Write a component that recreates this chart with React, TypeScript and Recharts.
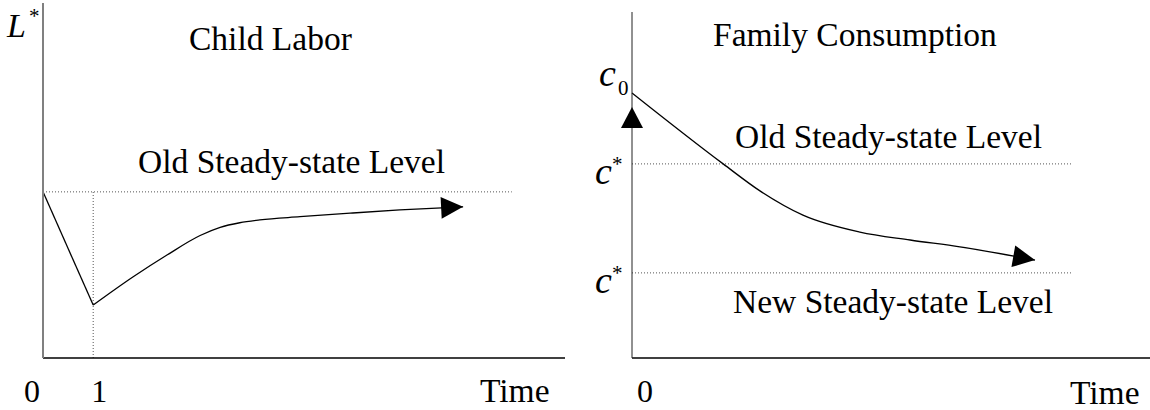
import { ComposedChart, Line, XAxis, YAxis, ReferenceLine, ReferenceDot } from "recharts";

const FONT = "'Liberation Serif', 'Times New Roman', serif";

// left panel: child labor after the shock
const laborDropTime = [0, 1];
const laborDropLevel = [4.68, 1.49];
const laborRecoveryTime = [1, 1.79, 2.47, 3.13, 3.53, 3.92, 4.32, 5.12, 6.12, 7.11, 8.37];
const laborRecoveryLevel = [1.49, 2.28, 2.9, 3.45, 3.68, 3.81, 3.89, 3.98, 4.08, 4.17, 4.26];
const laborOldLevel = 4.68;
const laborGuideEnd = 9.34;
const laborShockTime = 1;
const laborTicks = [0, 1];
const laborTickLabels = ["0", "1"];

// right panel: family consumption
const consumptionTime = [0, 1.76, 2.47, 3.3, 4.4, 5.37, 6.33, 7.78];
const consumptionLevel = [7.66, 5.61, 4.83, 4.13, 3.64, 3.41, 3.21, 2.83];
const consumptionStart = 7.66;
const consumptionOldLevel = 5.61;
const consumptionNewLevel = 2.46;
const consumptionJumpBase = 6.65;
const consumptionGuideEnd = 8.51;
const consumptionLevelTicks = [consumptionNewLevel, consumptionOldLevel, consumptionStart];
const consumptionLevelMarks = ["*", "*", "0"];
const consumptionTicks = [0];
const consumptionTickLabels = ["0"];

const laborDrop = laborDropTime.map((t, i) => ({ t, level: laborDropLevel[i] }));
const laborRecovery = laborRecoveryTime.map((t, i) => ({ t, level: laborRecoveryLevel[i] }));
const consumption = consumptionTime.map((t, i) => ({ t, level: consumptionLevel[i] }));

const txt = { fontFamily: FONT, fontSize: 33.5, fill: "#000" };
const dotted = { stroke: "#555", strokeDasharray: "1 2", strokeWidth: 1 };

// arrowhead on the last point, pointing along the last segment
function arrowDot(lastIndex: number) {
  let prev: { x: number; y: number } | null = null;
  return (props: any) => {
    const { cx, cy, index } = props;
    const before = prev;
    prev = { x: cx, y: cy };
    if (index !== lastIndex || !before) return <g key={`d${index}`} />;
    const ang = (Math.atan2(cy - before.y, cx - before.x) * 180) / Math.PI;
    return (
      <polygon
        key={`d${index}`}
        points="0,0 -22,-11 -22,11"
        transform={`translate(${cx},${cy}) rotate(${ang})`}
        fill="#000"
      />
    );
  };
}

function xTick(labels: string[], nudges: number[]) {
  return (props: any) => {
    const { x, y, index } = props;
    return (
      <text key={index} x={x + nudges[index]} y={y + 44} textAnchor="middle" {...txt} fontSize={32}>
        {labels[index]}
      </text>
    );
  };
}

function levelTick(props: any) {
  const { x, y, index } = props;
  const mark = consumptionLevelMarks[index];
  if (mark === "0") {
    return (
      <g key={index}>
        <text x={x - 33} y={y - 7} {...txt} fontSize={38} fontStyle="italic">c</text>
        <text x={x - 14} y={y + 2} {...txt} fontSize={21}>0</text>
      </g>
    );
  }
  return (
    <g key={index}>
      <text x={x - 37} y={y + 20} {...txt} fontSize={38} fontStyle="italic">c</text>
      <text x={x - 20} y={y + 7} {...txt} fontSize={21}>*</text>
    </g>
  );
}

function ChildLabor() {
  return (
    <ComposedChart width={575} height={410} margin={{ top: 3, right: 10, bottom: 0, left: 0 }}>
      <XAxis
        type="number"
        dataKey="t"
        domain={[0, 10.4]}
        ticks={laborTicks}
        interval={0}
        tick={xTick(laborTickLabels, [-11, 6])}
        tickLine={false}
        tickSize={0}
        tickMargin={0}
        height={52}
        axisLine={{ stroke: "#000", strokeWidth: 1.5 }}
      />
      <YAxis
        type="number"
        domain={[0, 10]}
        tick={false}
        tickLine={false}
        width={43}
        axisLine={{ stroke: "#808080", strokeWidth: 2 }}
      />
      <ReferenceLine
        segment={[{ x: 0, y: laborOldLevel }, { x: laborGuideEnd, y: laborOldLevel }]}
        {...dotted}
      />
      <ReferenceLine
        segment={[{ x: laborShockTime, y: 0 }, { x: laborShockTime, y: laborOldLevel }]}
        {...dotted}
      />
      <Line data={laborDrop} dataKey="level" type="linear" stroke="#000" strokeWidth={1.3} dot={false} isAnimationActive={false} />
      <Line
        data={laborRecovery}
        dataKey="level"
        type="monotone"
        stroke="#000"
        strokeWidth={1.3}
        dot={arrowDot(laborRecovery.length - 1)}
        isAnimationActive={false}
      />
      <text x={7} y={37} {...txt} fontSize={34} fontStyle="italic">L</text>
      <text x={29} y={23} {...txt} fontSize={21}>*</text>
      <text x={189} y={50} {...txt}>Child Labor</text>
      <text x={138} y={173} {...txt}>Old Steady-state Level</text>
      <text x={480} y={402} {...txt}>Time</text>
    </ComposedChart>
  );
}

function FamilyConsumption() {
  return (
    <ComposedChart width={575} height={410} margin={{ top: 12, right: 0, bottom: 0, left: 0 }}>
      <XAxis
        type="number"
        dataKey="t"
        domain={[0, 10]}
        ticks={consumptionTicks}
        interval={0}
        tick={xTick(consumptionTickLabels, [13])}
        tickLine={false}
        tickSize={0}
        tickMargin={0}
        height={52}
        axisLine={{ stroke: "#000", strokeWidth: 1.5 }}
      />
      <YAxis
        type="number"
        domain={[0, 10]}
        ticks={consumptionLevelTicks}
        interval={0}
        tick={levelTick}
        tickLine={false}
        tickSize={0}
        tickMargin={0}
        width={57}
        axisLine={{ stroke: "#222", strokeWidth: 1 }}
      />
      <ReferenceLine
        segment={[{ x: 0, y: consumptionOldLevel }, { x: consumptionGuideEnd, y: consumptionOldLevel }]}
        {...dotted}
      />
      <ReferenceLine
        segment={[{ x: 0, y: consumptionNewLevel }, { x: consumptionGuideEnd, y: consumptionNewLevel }]}
        {...dotted}
      />
      <ReferenceDot
        x={0}
        y={consumptionJumpBase}
        ifOverflow="visible"
        shape={(p: any) => (
          <polygon points={`${p.cx},${p.cy - 21} ${p.cx - 11},${p.cy} ${p.cx + 11},${p.cy}`} fill="#000" />
        )}
      />
      <Line
        data={consumption}
        dataKey="level"
        type="monotone"
        stroke="#000"
        strokeWidth={1.3}
        dot={arrowDot(consumption.length - 1)}
        isAnimationActive={false}
      />
      <text x={138} y={46} {...txt}>Family Consumption</text>
      <text x={160} y={148} {...txt}>Old Steady-state Level</text>
      <text x={158} y={313} {...txt}>New Steady-state Level</text>
      <text x={495} y={404} {...txt}>Time</text>
    </ComposedChart>
  );
}

export default function App() {
  return (
    <div style={{ position: "absolute", left: 0, top: 0, display: "flex", background: "#fff" }}>
      <ChildLabor />
      <FamilyConsumption />
    </div>
  );
}
